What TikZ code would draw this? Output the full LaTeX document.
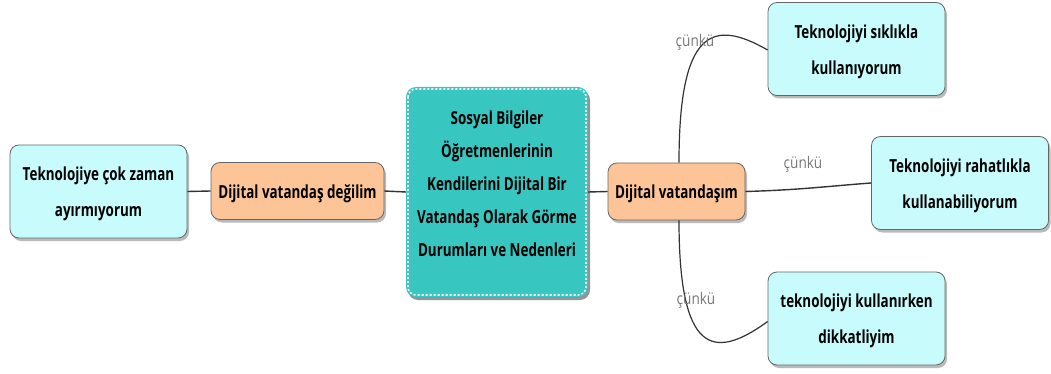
\documentclass[tikz,border=0pt]{standalone}
\usepackage{fontspec}
\usepackage{graphicx}
\setmainfont{Open Sans}
\newcommand\sq[1]{\scalebox{0.745}[1]{\begin{tabular}{@{}c@{}}#1\end{tabular}}}
\usetikzlibrary{shadows}
\definecolor{leafc}{HTML}{C8FCFC}
\definecolor{midc}{HTML}{FDC597}
\definecolor{rootc}{HTML}{38C6C0}
\definecolor{lblc}{HTML}{777777}
\tikzset{
  base/.style={rounded corners=9pt, draw=black!60, line width=0.8pt, align=center,
    font=\bfseries\fontsize{18}{36}\selectfont, inner sep=0pt,
    drop shadow={shadow xshift=2pt, shadow yshift=-3pt, fill=black!45, opacity=0.6}},
  leaf/.style={base, fill=leafc, minimum width=177pt, minimum height=93pt},
  mid/.style={base, fill=midc, minimum height=57pt},
  root/.style={rounded corners=10pt, fill=rootc, draw=none, align=center, inner sep=0pt,
    minimum width=182pt, minimum height=210pt,
    font=\bfseries\fontsize{18}{33}\selectfont,
    drop shadow={shadow xshift=2pt, shadow yshift=-3pt, fill=black!60, opacity=0.7}},
  conn/.style={draw=black!80, line width=1.4pt},
  lbl/.style={text=lblc, font=\fontsize{16}{16}\selectfont, inner sep=0pt}
}
\begin{document}
\begin{tikzpicture}[x=1pt,y=-1pt]
\useasboundingbox (0,0) rectangle (1051,374);
\node[leaf] (l1) at (98.5,191.5) {\sq{Teknolojiye çok zaman\\ayırmıyorum}};
\node[mid, minimum width=173pt] (m1) at (297.5,191) {\sq{Dijital vatandaş değilim}};
\node[root] (r) at (497,192) {\raisebox{3.5pt}[0pt][0pt]{\sq{Sosyal Bilgiler\\Öğretmenlerinin\\Kendilerini Dijital Bir\\Vatandaş Olarak Görme\\Durumları ve Nedenleri}}};
\draw[white, line width=1.6pt, dash pattern=on 2pt off 2pt, rounded corners=8pt]
  ([shift={(2.2pt,-2.2pt)}]r.north west) rectangle ([shift={(-2.2pt,2.2pt)}]r.south east);
\node[mid, minimum width=137pt] (m2) at (676.5,191.5) {\sq{Dijital vatandaşım}};
\node[leaf] (t1) at (856.5,49) {\sq{Teknolojiyi sıklıkla\\kullanıyorum}};
\node[leaf] (t2) at (960,183) {\sq{Teknolojiyi rahatlıkla\\kullanabiliyorum}};
\node[leaf] (t3) at (856.5,318.5) {\sq{teknolojiyi kullanırken\\dikkatliyim}};
\draw[conn] (l1.east) -- (m1.west);
\draw[conn] (m1.east) -- (r.west);
\draw[conn] (r.east) -- (m2.west);
\draw[conn] (m2.east) .. controls (800,190) and (830,186) .. (t2.west);
\coordinate (m2t) at ([xshift=2.5pt]m2.north);
\coordinate (m2b) at ([xshift=2.5pt]m2.south);
\coordinate (t1w) at ([yshift=-1pt]t1.west);
\coordinate (t3w) at ([yshift=-3pt]t3.west);
\draw[conn, line width=1.2pt] (m2t) .. controls (679,30) and (712,18) .. (t1w);
\draw[conn, line width=1.2pt] (m2b) .. controls (679,352) and (712,362) .. (t3w);
\node[lbl] (c1) at (695,42) {\scalebox{0.85}[1]{çünkü}};
\node[lbl] (c2) at (803,164) {\scalebox{0.85}[1]{çünkü}};
\node[lbl] (c3) at (696,300) {\scalebox{0.85}[1]{çünkü}};
\end{tikzpicture}
\end{document}
